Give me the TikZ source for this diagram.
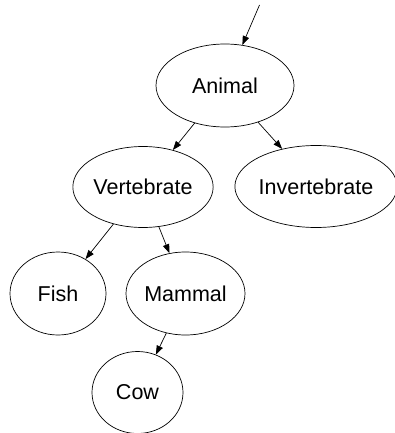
\documentclass[tikz,border=0pt]{standalone}
\usepackage{fontspec}
\setmainfont{Liberation Sans}
\usetikzlibrary{shapes.geometric,arrows.meta}
\begin{document}
\begin{tikzpicture}[x=1pt,y=-1pt,
  tnode/.style={draw,ellipse,inner sep=0pt,line width=0.7pt,font=\fontsize{21.5}{25}\selectfont},
  edge/.style={line width=0.7pt,-{Triangle[length=9pt,width=6.5pt]}}]
\useasboundingbox (0,0) rectangle (395,433);
\node[tnode,minimum width=138pt,minimum height=83pt] (animal) at (225,85.5) {Animal};
\node[tnode,minimum width=138pt,minimum height=81pt] (vert) at (143,187) {Vertebrate};
\node[tnode,minimum width=157pt,minimum height=82pt] (invert) at (316,186.5) {Invertebrate};
\node[tnode,minimum width=96pt,minimum height=83pt] (fish) at (58,293.5) {Fish};
\node[tnode,minimum width=119pt,minimum height=83pt] (mammal) at (185.5,293.5) {Mammal};
\node[tnode,minimum width=91pt,minimum height=82pt] (cow) at (137.5,392.5) {Cow};
\coordinate (top) at (259.5,5);
\draw[edge] (top) -- (animal);
\draw[edge] (animal) -- (vert);
\draw[edge] (animal) -- (invert);
\draw[edge] (vert) -- (fish);
\draw[edge] (vert) -- (mammal);
\draw[edge] (mammal) -- (cow);
\end{tikzpicture}
\end{document}
